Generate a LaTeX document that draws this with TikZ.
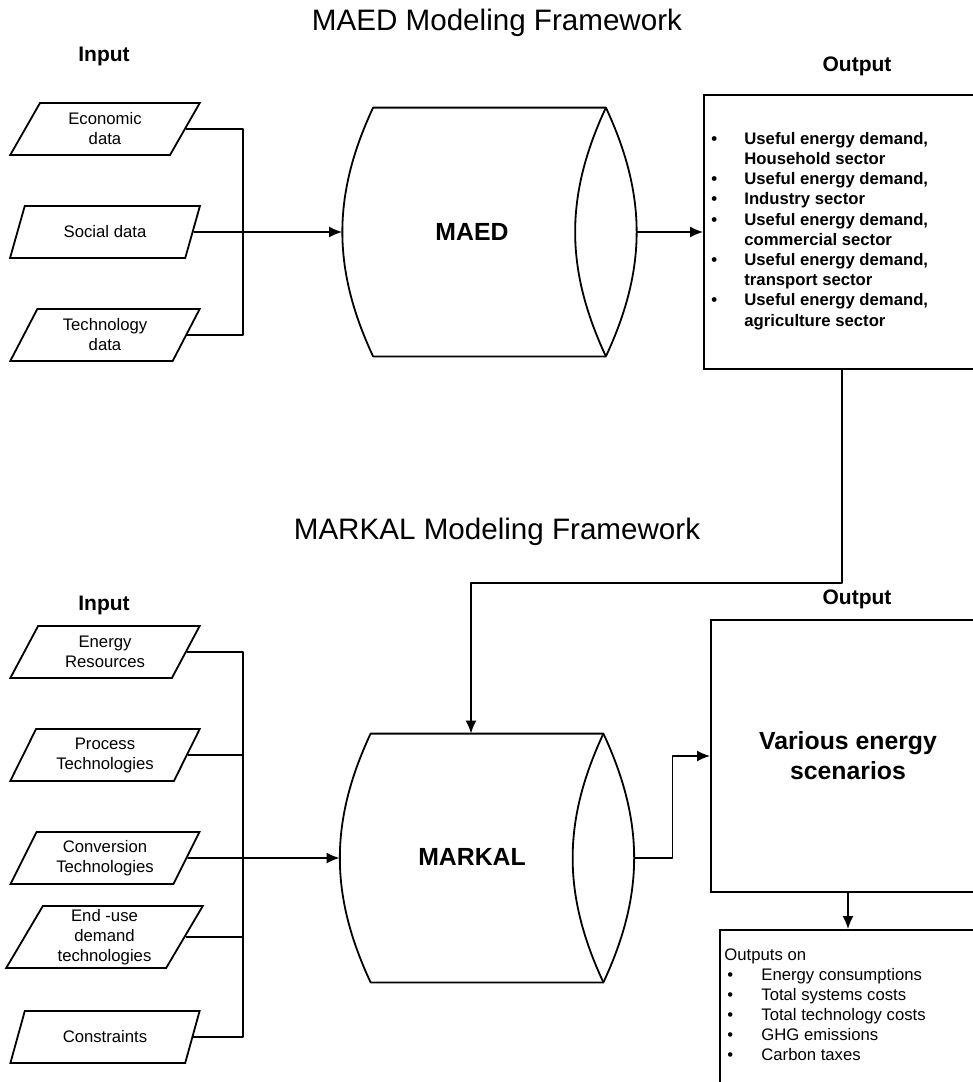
\documentclass[tikz,border=0pt]{standalone}
\usepackage{fontspec}
\setmainfont{Liberation Sans}
\usetikzlibrary{shapes.geometric,arrows.meta}

\tikzset{
  inbox/.style={draw, line width=0.9pt, trapezium, trapezium left angle=64,
    trapezium right angle=116, trapezium stretches=true, minimum width=95pt,
    minimum height=26pt, inner sep=1pt, align=center,
    font=\fontsize{8.35}{10}\selectfont},
  drum/.style={minimum width=147pt, minimum height=124pt, inner sep=0pt},
  outframe/.style={draw, line width=0.9pt, rectangle, inner sep=0pt},
  conn/.style={line width=0.9pt, line join=round},
  arr/.style={conn, -{Latex[length=6.5pt,width=5.5pt]}},
  heading/.style={font=\fontsize{14.8}{17}\selectfont},
  sidelabel/.style={font=\bfseries\fontsize{10.5}{12}\selectfont},
  bigbold/.style={font=\bfseries\fontsize{12.4}{15}\selectfont, align=center}
}

\begin{document}
\begin{tikzpicture}[x=0.5pt, y=-0.5pt]
      \useasboundingbox (0,0) rectangle (973,1082);
      % MAED part
      \node[heading] (t1) at (497,23) {MAED Modeling Framework};
      \node[sidelabel] (in1) at (104,56) {Input};
      \node[sidelabel] (out1) at (857,66) {Output};
      \node[inbox] (econ) at (105,129) {Economic\\data};
      \node[inbox] (social) at (105,232) {Social data};
      \node[inbox] (tech) at (105,335) {Technology\\data};
      \node[drum] (maed) at (489.5,232) {};
      \node[bigbold] (maedtxt) at (472,232) {MAED};
      \draw[conn] ([xshift=15.5pt]maed.north west) to[bend right=25] ([xshift=15.5pt]maed.south west)
        -- ([xshift=-15.5pt]maed.south east) to[bend right=25] ([xshift=-15.5pt]maed.north east) -- cycle;
      \draw[conn] ([xshift=-15.5pt]maed.north east) to[bend right=25] ([xshift=-15.5pt]maed.south east);
      \node[outframe, minimum width=140.5pt, minimum height=137pt] (demand) at (844.5,232) {};
      \node[anchor=west, align=left, inner sep=0pt, font=\bfseries\fontsize{8.35}{10.1}\selectfont] (demandtxt) at (711,231) {%
        \makebox[16.5pt][l]{\textbullet}Useful energy demand,\\
        \makebox[16.5pt][l]{}Household sector\\
        \makebox[16.5pt][l]{\textbullet}Useful energy demand,\\
        \makebox[16.5pt][l]{\textbullet}Industry sector\\
        \makebox[16.5pt][l]{\textbullet}Useful energy demand,\\
        \makebox[16.5pt][l]{}commercial sector\\
        \makebox[16.5pt][l]{\textbullet}Useful energy demand,\\
        \makebox[16.5pt][l]{}transport sector\\
        \makebox[16.5pt][l]{\textbullet}Useful energy demand,\\
        \makebox[16.5pt][l]{}agriculture sector};
      \coordinate (bus1) at (243,232);
      \draw[conn] (econ.east) -| (bus1) |- (tech.east);
      \draw[arr] (social.east) -- (maed.west);
      \draw[arr] (maed.east) -- (maed.east -| demand.west);
      % MARKAL part
      \node[heading] (t2) at (497,532) {MARKAL Modeling Framework};
      \node[sidelabel] (in2) at (104,605) {Input};
      \node[sidelabel] (out2) at (857,599) {Output};
      \node[inbox] (res) at (105,652) {Energy\\Resources};
      \node[inbox] (proc) at (105,755) {Process\\Technologies};
      \node[inbox] (conv) at (105,858) {Conversion\\Technologies};
      \node[inbox, minimum width=98.5pt, minimum height=31pt] (enduse) at (104.5,937) {End -use\\demand\\technologies};
      \node[inbox] (cons) at (105,1037) {Constraints};
      \node[drum] (markal) at (487,858) {};
      \node[bigbold] (markaltxt) at (472,857) {MARKAL};
      \draw[conn] ([xshift=15.5pt]markal.north west) to[bend right=25] ([xshift=15.5pt]markal.south west)
        -- ([xshift=-15.5pt]markal.south east) to[bend right=25] ([xshift=-15.5pt]markal.north east) -- cycle;
      \draw[conn] ([xshift=-15.5pt]markal.north east) to[bend right=25] ([xshift=-15.5pt]markal.south east);
      \node[outframe, bigbold, minimum width=137pt, minimum height=136pt] (scen) at (848,756) {Various energy\\scenarios};
      \node[outframe, minimum width=132.5pt, minimum height=82.5pt] (results) at (852.5,1012.5) {};
      \node[anchor=west, align=left, inner sep=0pt, font=\fontsize{8.35}{10}\selectfont] (resultstxt) at (724,1005) {%
        Outputs on\\
        \hspace*{1.5pt}\makebox[17pt][l]{\textbullet}Energy consumptions\\
        \hspace*{1.5pt}\makebox[17pt][l]{\textbullet}Total systems costs\\
        \hspace*{1.5pt}\makebox[17pt][l]{\textbullet}Total technology costs\\
        \hspace*{1.5pt}\makebox[17pt][l]{\textbullet}GHG emissions\\
        \hspace*{1.5pt}\makebox[17pt][l]{\textbullet}Carbon taxes};
      \coordinate (bus2) at (243,858);
      \draw[conn] (res.east) -| (bus2) |- (cons.east);
      \draw[conn] (proc.east) -- (proc.east -| bus2);
      \draw[conn] (enduse.east) -- (enduse.east -| bus2);
      \draw[arr] (conv.east) -- (markal.west);
      \draw[arr] (markal.east) -- ++(38,0) |- (scen.west);
      \draw[arr] (scen.south) -- (scen.south |- results.north);
      % link between the two models
      \coordinate (turn) at (842,583);
      \draw[arr] (demand.south -| turn) -- (turn) -| ([xshift=-8pt]markal.north);
\end{tikzpicture}
\end{document}
